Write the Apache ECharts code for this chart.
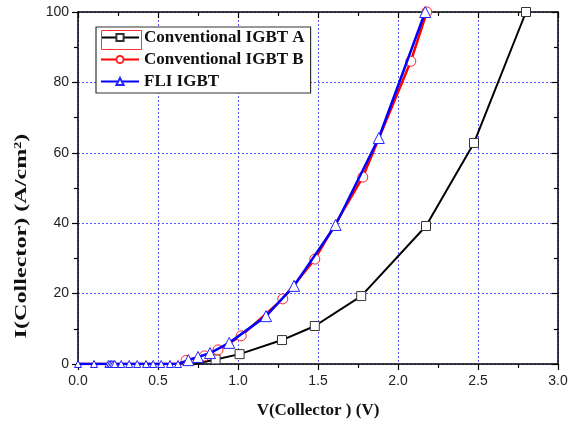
<!DOCTYPE html>
<html>
<head>
<meta charset="utf-8">
<script src="https://cdn.jsdelivr.net/npm/echarts@6/dist/echarts.min.js"></script>
<style>
  html, body { margin: 0; padding: 0; background: #fff; }
  #chart { width: 575px; height: 426px; }
</style>
</head>
<body>
<div id="chart"></div>
<script>
// Conventional IGBT A (black squares)
const vA = [0.73, 0.86, 1.01, 1.275, 1.48, 1.77, 2.175, 2.475, 2.8];
const iA = [0, 1.3, 2.8, 6.8, 10.8, 19.3, 39.2, 62.8, 100];
// Conventional IGBT B (red circles), first two points are off-state (no marker)
const vB = [0, 0.63, 0.675, 0.79, 0.875, 1.02, 1.28, 1.48, 1.78, 2.08, 2.18];
const iB = [0, 0, 1, 2.3, 4, 8, 18.5, 29.8, 53.1, 86, 100];
// FLI IGBT (blue triangles), off-state points at zero current first
const vC0 = [0, 0.1, 0.19, 0.2, 0.21, 0.22, 0.23, 0.27, 0.32, 0.37, 0.425, 0.47, 0.52, 0.575, 0.625];
const vC = [0.69, 0.75, 0.825, 0.945, 1.175, 1.35, 1.61, 1.88, 2.17];
const iC = [1.1, 2, 3.1, 6, 13.6, 22.2, 39.5, 64.2, 100];

const xTicks = ['0.0', '0.5', '1.0', '1.5', '2.0', '2.5', '3.0'];
const yTicks = ['0', '20', '40', '60', '80', '100'];

const serif = '"Liberation Serif", "DejaVu Serif", serif';
const sans = '"Liberation Sans", Arial, sans-serif';

let dataA = vA.map((v, i) => i === 0 ? { value: [v, iA[i]], symbol: 'none' } : [v, iA[i]]);
let dataB = vB.map((v, i) => i < 2 ? { value: [v, iB[i]], symbol: 'none' } : [v, iB[i]]);
let dataC = vC0.map(v => ({ value: [v, 0], symbolSize: 7 }))
  .concat(vC.map((v, i) => [v, iC[i]]));

let chart = echarts.init(document.getElementById('chart'));

const gridLine = { show: true, lineStyle: { color: '#5555ff', type: [2, 2], width: 1 } };
const axisLine = { show: true, onZero: false, lineStyle: { color: '#000', width: 1.5 } };

chart.setOption({
  animation: false,
  backgroundColor: '#fff',
  grid: { left: 78, right: 17, top: 12, bottom: 62 },
  xAxis: [
    {
      type: 'value', min: 0, max: 3, interval: 0.5, position: 'bottom',
      axisLine: axisLine,
      axisTick: { show: true, inside: false, length: 6, lineStyle: { color: '#000', width: 1.2 } },
      minorTick: { show: true, splitNumber: 2, length: 4, lineStyle: { color: '#000', width: 1.2 } },
      splitLine: gridLine,
      axisLabel: { margin: 10, fontFamily: sans, fontSize: 14, color: '#222',
        formatter: (v) => xTicks[Math.round(v / 0.5)] },
      name: 'V(Collector ) (V)', nameLocation: 'middle', nameGap: 38,
      nameTextStyle: { fontFamily: serif, fontWeight: 'bold', fontSize: 17, color: '#111' }
    },
    {
      type: 'value', min: 0, max: 3, interval: 0.5, position: 'top',
      axisLine: axisLine,
      axisTick: { show: true, inside: true, length: 6, lineStyle: { color: '#000', width: 1.2 } },
      minorTick: { show: true, splitNumber: 2, length: 4, lineStyle: { color: '#000', width: 1.2 } },
      splitLine: { show: false },
      axisLabel: { show: false }
    }
  ],
  yAxis: [
    {
      type: 'value', min: 0, max: 100, interval: 20, position: 'left',
      axisLine: axisLine,
      axisTick: { show: true, inside: false, length: 6, lineStyle: { color: '#000', width: 1.2 } },
      minorTick: { show: true, splitNumber: 2, length: 4, lineStyle: { color: '#000', width: 1.2 } },
      splitLine: gridLine,
      axisLabel: { margin: 9, fontFamily: sans, fontSize: 14, color: '#222',
        formatter: (v) => yTicks[Math.round(v / 20)] }
    },
    {
      type: 'value', min: 0, max: 100, interval: 20, position: 'right',
      axisLine: axisLine,
      axisTick: { show: true, inside: true, length: 6, lineStyle: { color: '#000', width: 1.2 } },
      minorTick: { show: true, splitNumber: 2, length: 4, lineStyle: { color: '#000', width: 1.2 } },
      splitLine: { show: false },
      axisLabel: { show: false }
    }
  ],
  legend: {
    left: 96, top: 27,
    orient: 'vertical',
    itemWidth: 38, itemHeight: 9, itemGap: 5,
    padding: [2, 6, 3, 4],
    borderColor: '#333', borderWidth: 1.2,
    backgroundColor: '#fff',
    textStyle: { fontFamily: serif, fontWeight: 'bold', fontSize: 17, lineHeight: 17, color: '#111' },
    data: ['Conventional IGBT A', 'Conventional IGBT B', 'FLI IGBT']
  },
  graphic: [
    {
      type: 'rect', left: 99, top: 28, z: 100,
      shape: { width: 40, height: 19 },
      style: { fill: 'none', stroke: '#ff3333', lineWidth: 1 }
    },
    {
      type: 'text', x: 22, y: 236, rotation: Math.PI / 2, scaleX: 1.42, z: 100,
      style: {
        text: '{a|I(Collector) (A/cm}{s|2}{a|)}',
        align: 'center', verticalAlign: 'middle',
        rich: {
          a: { fontFamily: serif, fontWeight: 'bold', fontSize: 17, fill: '#111' },
          s: { fontFamily: serif, fontWeight: 'bold', fontSize: 10, fill: '#111', verticalAlign: 'top', padding: [0, 0, 8, 0] }
        }
      }
    }
  ],
  series: [
    {
      name: 'Conventional IGBT A', type: 'line', data: dataA,
      symbol: 'rect', symbolSize: 9,
      lineStyle: { color: '#000', width: 2 },
      itemStyle: { color: '#fff', borderColor: '#333', borderWidth: 1 },
      z: 3
    },
    {
      name: 'Conventional IGBT B', type: 'line', data: dataB,
      symbol: 'circle', symbolSize: 10,
      lineStyle: { color: '#ff0000', width: 2.5 },
      itemStyle: { color: '#fff', borderColor: '#ff2222', borderWidth: 1 },
      z: 4
    },
    {
      name: 'FLI IGBT', type: 'line', data: dataC,
      symbol: 'triangle', symbolSize: 11,
      lineStyle: { color: '#0000ff', width: 2.5 },
      itemStyle: { color: '#fff', borderColor: '#2222ff', borderWidth: 1 },
      z: 5
    }
  ]
});
</script>
</body>
</html>
